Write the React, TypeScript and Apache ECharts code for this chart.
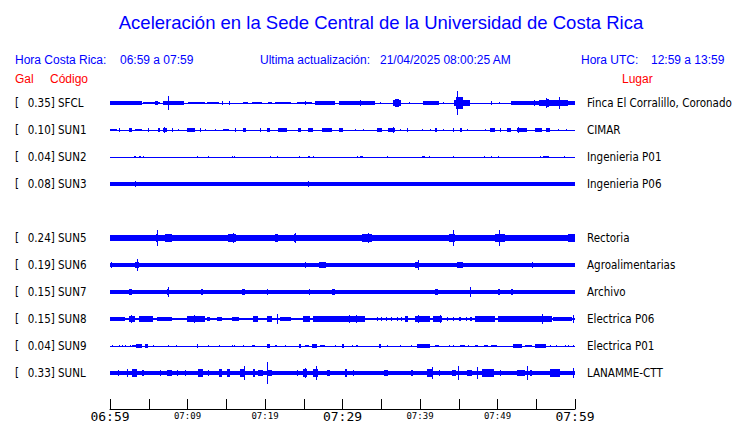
import React, { useEffect, useRef } from 'react';
import * as echarts from 'echarts';

// ---------- data ----------
const TITLE = 'Aceleración en la Sede Central de la Universidad de Costa Rica';
const localRange = '06:59 a 07:59';
const utcRange = '12:59 a 13:59';
const lastUpdate = '21/04/2025 08:00:25 AM';

const codes = ['SFCL', 'SUN1', 'SUN2', 'SUN3', 'SUN4', 'SUN5', 'SUN6', 'SUN7', 'SUN8', 'SUN9', 'SUNL'];
const peakGal: (number | null)[] = [0.35, 0.10, 0.04, 0.08, null, 0.24, 0.19, 0.15, 0.15, 0.04, 0.33];
const places = ['Finca El Corralillo, Coronado', 'CIMAR', 'Ingenieria P01', 'Ingenieria P06', '', 'Rectoria',
  'Agroalimentarias', 'Archivo', 'Electrica P06', 'Electrica P01', 'LANAMME-CTT'];
// continuous background noise level (Gal, half amplitude)
const noiseGal: (number | null)[] = [0.015, 0.015, 0.015, 0.05, null, 0.08, 0.06, 0.055, 0.045, 0.015, 0.065];

// tick labels every 5 minutes from 06:59
const tickLabels = ['06:59', '', '07:09', '', '07:19', '', '07:29', '', '07:39', '', '07:49', '', '07:59'];
const majorTickLabels = ['06:59', '07:29', '07:59'];

// events: [start minute, end minute, half amplitude in Gal]
const sfclEvents = [
  [0, 4.1, 0.05], [4.3, 6.5, 0.045], [5.8, 6.2, 0.07], [6.9, 9.5, 0.05], [7.5, 7.5, 0.21], [10.1, 12.3, 0.045],
  [12.5, 14.0, 0.04], [14.5, 14.5, 0.05], [15.3, 15.5, 0.05], [17.2, 17.8, 0.04], [18.3, 19.6, 0.045],
  [20.4, 20.9, 0.04], [21.3, 23.4, 0.045], [24.1, 26.0, 0.045], [25.2, 25.2, 0.07], [26.5, 29.0, 0.05],
  [29.5, 32.0, 0.05], [32.0, 34.2, 0.075], [32.2, 32.2, 0.1], [34.8, 35.0, 0.04], [36.5, 37.6, 0.08],
  [36.8, 37.3, 0.13], [38.6, 38.6, 0.04], [40.4, 42.4, 0.05], [43.0, 43.0, 0.04], [44.4, 46.5, 0.1],
  [44.7, 45.6, 0.18], [44.75, 44.75, 0.35], [49.2, 49.3, 0.05], [50.2, 50.3, 0.04], [51.8, 55.3, 0.05],
  [54.7, 54.7, 0.08], [55.3, 59.1, 0.08], [56.2, 56.6, 0.12], [56.3, 56.3, 0.16], [57.9, 57.9, 0.18],
  [58.4, 59.0, 0.1], [59.1, 60, 0.06],
];
const sun1Events = [
  [0, 0.9, 0.045], [1.1, 1.1, 0.05], [2.4, 2.8, 0.05], [3.2, 4.1, 0.045], [4.9, 4.9, 0.05], [6.2, 6.45, 0.05],
  [6.9, 7.3, 0.06], [7.0, 7.0, 0.09], [8.0, 8.0, 0.05], [8.8, 8.8, 0.045], [9.9, 11.0, 0.05], [11.6, 11.6, 0.05],
  [12.3, 12.3, 0.045], [13.5, 13.5, 0.045], [14.6, 15.3, 0.045], [16.1, 16.1, 0.05], [17.2, 17.6, 0.05],
  [19.4, 19.4, 0.05], [20.2, 20.6, 0.05], [21.7, 22.8, 0.05], [24.3, 24.7, 0.05], [25.6, 26.2, 0.05],
  [27.3, 28.6, 0.05], [29.5, 30.1, 0.05], [31.6, 31.6, 0.045], [32.7, 32.7, 0.045], [34.4, 35.1, 0.05],
  [35.9, 36.8, 0.055], [36.5, 36.6, 0.08], [37.4, 37.4, 0.045], [38.3, 38.5, 0.05], [40.2, 40.2, 0.045],
  [41.3, 41.3, 0.045], [41.9, 42.2, 0.05], [43.0, 43.0, 0.045], [44.3, 44.3, 0.05], [45.2, 45.4, 0.05],
  [46.0, 46.0, 0.045], [48.4, 48.4, 0.045], [49.0, 49.7, 0.05], [50.3, 50.3, 0.05], [51.2, 51.8, 0.05],
  [52.5, 53.8, 0.055], [52.7, 52.8, 0.1], [54.8, 55.7, 0.05], [56.3, 56.8, 0.05], [57.8, 57.8, 0.045],
  [58.9, 58.9, 0.045],
];
const sun2Events = [
  [3.1, 3.3, 0.04], [3.7, 4.0, 0.045], [4.2, 4.2, 0.035], [11.2, 11.2, 0.035], [12.7, 12.7, 0.035],
  [15.8, 15.8, 0.03], [16.0, 16.0, 0.03], [20.7, 20.7, 0.035], [21.5, 21.5, 0.04], [24.4, 24.4, 0.03],
  [25.6, 25.8, 0.045], [26.2, 26.2, 0.035], [31.9, 31.9, 0.035], [32.3, 32.6, 0.04], [35.7, 35.7, 0.03],
  [40.2, 40.2, 0.03], [40.4, 40.7, 0.045], [41.2, 41.3, 0.04], [44.3, 44.3, 0.03], [48.3, 48.3, 0.035],
  [49.1, 49.1, 0.04], [50.0, 50.0, 0.035], [55.5, 55.5, 0.035], [55.9, 56.6, 0.045], [58.6, 58.6, 0.035],
];
const sun3Events = [
  [1.1, 1.1, 0.065], [1.6, 1.6, 0.07], [3.2, 3.3, 0.08], [11.0, 11.0, 0.06], [25.6, 25.65, 0.08],
  [32.5, 32.5, 0.06], [40.5, 40.7, 0.075], [48.3, 48.3, 0.065], [50.1, 50.1, 0.065], [52.7, 52.7, 0.06],
  [53.2, 53.2, 0.06], [56.0, 56.4, 0.075], [58.6, 58.6, 0.06],
];
const sun5Events = [
  [0.8, 1.2, 0.1], [1.7, 2.2, 0.1], [3.7, 3.9, 0.1], [4.6, 5.0, 0.095], [5.9, 6.2, 0.13], [6.0, 6.0, 0.24],
  [7.1, 8.0, 0.11], [9.0, 9.9, 0.1], [11.0, 11.3, 0.095], [12.6, 13.0, 0.095], [15.2, 16.2, 0.11],
  [15.9, 15.9, 0.15], [18.3, 18.5, 0.1], [21.3, 21.7, 0.11], [23.8, 24.0, 0.13], [23.9, 23.9, 0.14],
  [27.3, 27.6, 0.1], [29.0, 29.3, 0.095], [32.5, 33.8, 0.11], [33.3, 33.3, 0.15], [35.5, 35.8, 0.095],
  [38.1, 39.8, 0.1], [41.9, 42.4, 0.1], [43.7, 44.5, 0.12], [44.2, 44.2, 0.24], [45.8, 46.2, 0.1],
  [49.7, 51.0, 0.11], [50.2, 50.2, 0.25], [53.0, 53.3, 0.095], [55.5, 55.8, 0.095], [59.1, 60, 0.11],
];
const sun6Events = [
  [0.1, 0.1, 0.09], [3.2, 3.7, 0.1], [3.44, 3.44, 0.19], [10.9, 10.9, 0.07], [25.2, 25.2, 0.1],
  [27.0, 27.8, 0.08], [27.2, 27.2, 0.1], [27.7, 27.7, 0.1], [34.4, 34.4, 0.07], [39.4, 39.9, 0.09],
  [39.7, 39.7, 0.16], [41.7, 41.7, 0.07], [43.4, 43.4, 0.07], [44.8, 45.5, 0.08], [44.9, 44.9, 0.1],
  [45.4, 45.4, 0.1], [54.4, 54.4, 0.09], [57.2, 57.2, 0.07], [58.5, 58.5, 0.07], [59.4, 59.4, 0.07],
];
const sun7Events = [
  [1.3, 1.6, 0.07], [2.4, 2.8, 0.08], [4.9, 4.9, 0.07], [6.45, 6.45, 0.07], [7.4, 7.6, 0.08], [7.5, 7.5, 0.15],
  [10.0, 10.0, 0.07], [11.8, 12.0, 0.09], [13.2, 13.2, 0.07], [15.0, 15.0, 0.07], [17.0, 17.4, 0.1],
  [19.1, 19.1, 0.07], [20.2, 20.2, 0.08], [22.3, 22.3, 0.07], [23.0, 23.0, 0.07], [24.2, 24.2, 0.07],
  [25.7, 25.7, 0.08], [26.7, 26.7, 0.07], [27.7, 27.7, 0.07], [28.6, 29.0, 0.09], [29.3, 29.8, 0.075],
  [31.0, 31.0, 0.07], [32.9, 32.9, 0.07], [35.3, 35.3, 0.065], [38.4, 38.4, 0.07], [39.8, 39.8, 0.07],
  [40.7, 40.7, 0.07], [41.9, 42.3, 0.08], [43.2, 43.2, 0.07], [44.7, 44.7, 0.075], [46.4, 46.6, 0.09],
  [46.5, 46.5, 0.15], [48.8, 48.8, 0.07], [50.1, 50.3, 0.08], [51.8, 52.0, 0.08], [53.3, 53.3, 0.07],
  [54.2, 54.2, 0.07], [55.1, 55.1, 0.07], [56.3, 56.3, 0.07], [59.1, 59.1, 0.065],
];
const sun8Events = [
  [0, 1.9, 0.07], [2.4, 3.2, 0.1], [2.7, 2.7, 0.12], [3.7, 5.6, 0.09], [6.0, 8.0, 0.075], [9.9, 12.3, 0.08],
  [10.8, 10.8, 0.11], [12.5, 12.9, 0.07], [13.8, 14.4, 0.07], [15.7, 16.6, 0.07], [18.5, 19.1, 0.09],
  [20.2, 20.9, 0.09], [21.6, 21.6, 0.15], [21.9, 23.4, 0.075], [24.9, 25.8, 0.09], [26.2, 29.5, 0.08],
  [29.5, 32.9, 0.09], [30.8, 30.8, 0.12], [31.8, 31.8, 0.12], [34.4, 34.4, 0.065], [35.0, 35.0, 0.065],
  [35.6, 35.6, 0.065], [36.2, 36.2, 0.065], [37.0, 37.0, 0.065], [37.5, 37.5, 0.065], [38.1, 38.5, 0.08],
  [39.4, 41.3, 0.1], [39.8, 39.8, 0.12], [41.7, 42.8, 0.09], [42.6, 42.6, 0.12], [43.5, 43.5, 0.07],
  [44.2, 44.2, 0.07], [45.0, 45.3, 0.07], [45.9, 45.9, 0.07], [46.5, 46.7, 0.07], [47.1, 49.7, 0.08],
  [50.1, 53.5, 0.09], [53.5, 57.0, 0.095], [55.7, 55.7, 0.15], [57.2, 59.6, 0.07], [59.8, 59.8, 0.11],
];
const sun9Events = [
  [0.3, 0.3, 0.04], [1.1, 1.1, 0.04], [1.5, 1.5, 0.04], [1.9, 1.9, 0.04], [2.6, 2.6, 0.04], [2.8, 3.4, 0.045],
  [3.4, 4.1, 0.05], [4.5, 4.9, 0.05], [5.6, 5.6, 0.04], [7.5, 7.5, 0.035], [8.5, 8.5, 0.04], [11.2, 11.4, 0.05],
  [12.7, 12.7, 0.04], [14.1, 14.1, 0.035], [15.8, 15.8, 0.04], [16.0, 16.0, 0.04], [17.2, 17.2, 0.04],
  [18.3, 18.7, 0.045], [20.3, 20.7, 0.05], [21.3, 21.6, 0.045], [22.6, 22.6, 0.04], [24.4, 24.6, 0.05],
  [25.1, 25.7, 0.045], [26.0, 26.7, 0.05], [27.1, 27.7, 0.045], [29.0, 29.0, 0.04], [29.9, 30.2, 0.05],
  [31.2, 31.2, 0.04], [31.8, 32.0, 0.045], [34.7, 35.0, 0.05], [35.7, 35.7, 0.04], [37.4, 37.4, 0.04],
  [38.9, 38.9, 0.04], [39.6, 41.3, 0.05], [41.9, 42.4, 0.045], [43.7, 43.7, 0.04], [44.3, 44.3, 0.04],
  [45.2, 45.8, 0.045], [46.2, 46.2, 0.04], [47.1, 47.5, 0.045], [48.2, 48.8, 0.045], [49.2, 49.9, 0.045],
  [52.0, 53.1, 0.05], [53.5, 54.4, 0.045], [54.8, 56.3, 0.05], [56.8, 56.8, 0.04], [57.6, 57.6, 0.04],
  [58.7, 58.7, 0.04], [59.1, 59.1, 0.04], [59.8, 59.8, 0.04],
];
const sunlEvents = [
  [1.0, 1.0, 0.09], [2.15, 2.15, 0.13], [2.8, 3.5, 0.11], [3.1, 3.2, 0.12], [4.1, 4.4, 0.09], [6.45, 6.45, 0.08],
  [7.3, 8.0, 0.085], [8.6, 8.6, 0.08], [9.7, 9.7, 0.08], [11.4, 12.0, 0.11], [11.6, 11.6, 0.13],
  [12.7, 12.7, 0.085], [14.0, 14.4, 0.11], [15.1, 15.5, 0.12], [15.3, 15.3, 0.13], [16.8, 17.4, 0.11],
  [17.3, 17.3, 0.21], [18.5, 18.7, 0.12], [19.1, 19.8, 0.1], [20.3, 20.3, 0.33], [20.4, 20.9, 0.09],
  [24.1, 24.1, 0.08], [24.9, 25.4, 0.11], [25.1, 25.1, 0.14], [26.2, 26.9, 0.11], [26.6, 26.6, 0.21],
  [28.0, 28.4, 0.09], [30.3, 30.5, 0.12], [30.4, 30.4, 0.13], [31.4, 31.4, 0.085], [35.3, 35.9, 0.1],
  [38.9, 39.1, 0.1], [40.9, 41.7, 0.12], [41.6, 41.6, 0.18], [42.4, 42.6, 0.09], [44.1, 44.7, 0.09],
  [44.9, 44.9, 0.21], [46.0, 46.7, 0.08], [47.4, 47.4, 0.18], [48.0, 49.5, 0.11], [50.3, 50.3, 0.085],
  [52.5, 53.5, 0.1], [53.8, 53.8, 0.2], [54.2, 54.4, 0.085], [56.8, 58.1, 0.12], [57.4, 57.4, 0.13],
  [59.8, 59.8, 0.14],
];
const eventsByStation: number[][][] = [
  sfclEvents, sun1Events, sun2Events, sun3Events, [], sun5Events,
  sun6Events, sun7Events, sun8Events, sun9Events, sunlEvents,
];

// ---------- style ----------
const BLUE = '#0000ff';
const RED = '#ff0000';
const ROWS_PER_GAL = 33 / 27; // vertical scale of the traces
const HEAD_FONT = '"Liberation Sans", Arial, sans-serif';
const LABEL_FONT = '"DejaVu Sans Condensed", "DejaVu Sans", sans-serif';
const MONO_FONT = '"DejaVu Sans Mono", monospace';
const LABEL_SIZE = 11.5;

function renderTrace(_params: any, api: any) {
  const t0 = api.value(0);
  const t1 = api.value(1);
  const amp = api.value(2);
  const row = api.value(3);
  const a = api.coord([t0, row]);
  const b = api.coord([t1, row]);
  const half = Math.abs(api.size([0, amp * ROWS_PER_GAL])[1]);
  const x = Math.round(a[0]);
  const w = Math.max(1, Math.round(b[0]) - x);
  const yTop = Math.round(a[1] - half);
  let yBot = Math.round(a[1] + half);
  if (yBot <= yTop) yBot = yTop + 1;
  return {
    type: 'rect',
    shape: { x, y: yTop, width: w, height: yBot - yTop },
    style: { fill: BLUE },
  };
}

export default function App() {
  const ref = useRef<HTMLDivElement>(null);
  useEffect(() => {
    if (!ref.current) return;
    const chart = echarts.init(ref.current, undefined, { renderer: 'svg' });

    const series: any[] = [];
    codes.forEach((code, i) => {
      if (peakGal[i] == null) return;
      const data = [[0, 60, noiseGal[i] as number, i], ...eventsByStation[i].map((e) => [e[0], e[1], e[2], i])];
      series.push({
        type: 'custom',
        name: code,
        renderItem: renderTrace,
        dimensions: ['start', 'end', 'amp', 'row'],
        encode: { x: [0, 1], y: 3 },
        data,
        clip: false,
        silent: true,
      });
    });

    const rowIndex = (v: number) => {
      const r = Math.round(v);
      return Math.abs(r - v) < 1e-6 && r >= 0 && r < codes.length ? r : -1;
    };

    const option: any = {
      animation: false,
      backgroundColor: '#ffffff',
      grid: { left: 110, width: 465, top: 76, height: 333, containLabel: false },
      xAxis: {
        type: 'value',
        min: 0,
        max: 60,
        interval: 5,
        axisLine: { show: true, onZero: false, lineStyle: { color: '#000', width: 1 } },
        axisTick: { show: true, inside: true, length: 10, lineStyle: { color: '#000', width: 1 } },
        splitLine: { show: false },
        axisLabel: {
          margin: 0,
          showMinLabel: true,
          showMaxLabel: true,
          formatter: (v: number) => {
            const lbl = tickLabels[Math.round(v / 5)] || '';
            if (!lbl) return '';
            return majorTickLabels.includes(lbl) ? `{big|${lbl}}` : `{small|${lbl}}`;
          },
          rich: {
            big: { fontSize: 13, lineHeight: 15, fontFamily: MONO_FONT, color: '#000' },
            small: { fontSize: 9, lineHeight: 11, fontFamily: MONO_FONT, color: '#000', padding: [2, 0, 0, 0] },
          },
        },
      },
      yAxis: [
        {
          type: 'value',
          inverse: true,
          min: -1,
          max: 34 / 3,
          interval: 1,
          position: 'left',
          axisLine: { show: false, onZero: false },
          axisTick: { show: false },
          splitLine: { show: false },
          axisLabel: {
            align: 'left',
            margin: 95,
            showMinLabel: true,
            showMaxLabel: true,
            formatter: (v: number) => {
              const r = rowIndex(v);
              if (r < 0 || peakGal[r] == null) return '';
              return `{br|[}{txt|${(peakGal[r] as number).toFixed(2)}] ${codes[r]}}`;
            },
            rich: {
              br: { width: 12.7, fontSize: LABEL_SIZE, fontFamily: LABEL_FONT, color: '#000' },
              txt: { fontSize: LABEL_SIZE, fontFamily: LABEL_FONT, color: '#000' },
            },
          },
        },
        {
          type: 'value',
          inverse: true,
          min: -1,
          max: 34 / 3,
          interval: 1,
          position: 'right',
          axisLine: { show: false, onZero: false },
          axisTick: { show: false },
          splitLine: { show: false },
          axisLabel: {
            align: 'left',
            margin: 12,
            fontSize: LABEL_SIZE,
            fontFamily: LABEL_FONT,
            color: '#000',
            showMinLabel: true,
            showMaxLabel: true,
            formatter: (v: number) => {
              const r = rowIndex(v);
              if (r < 0 || peakGal[r] == null) return '';
              return places[r];
            },
          },
        },
      ],
      graphic: [
        { type: 'text', x: 381, y: 22, style: { text: TITLE, fill: BLUE, font: `18.5px ${HEAD_FONT}`, textAlign: 'center', textVerticalAlign: 'middle' } },
        { type: 'text', x: 15, y: 60, style: { text: 'Hora Costa Rica:', fill: BLUE, font: `12px ${HEAD_FONT}`, textVerticalAlign: 'middle' } },
        { type: 'text', x: 120, y: 60, style: { text: localRange, fill: BLUE, font: `12px ${HEAD_FONT}`, textVerticalAlign: 'middle' } },
        { type: 'text', x: 260, y: 60, style: { text: 'Ultima actualización:', fill: BLUE, font: `12px ${HEAD_FONT}`, textVerticalAlign: 'middle' } },
        { type: 'text', x: 380, y: 60, style: { text: lastUpdate, fill: BLUE, font: `12px ${HEAD_FONT}`, textVerticalAlign: 'middle' } },
        { type: 'text', x: 581, y: 60, style: { text: 'Hora UTC:', fill: BLUE, font: `12px ${HEAD_FONT}`, textVerticalAlign: 'middle' } },
        { type: 'text', x: 651, y: 60, style: { text: utcRange, fill: BLUE, font: `12px ${HEAD_FONT}`, textVerticalAlign: 'middle' } },
        { type: 'text', x: 15, y: 79, style: { text: 'Gal', fill: RED, font: `12px ${HEAD_FONT}`, textVerticalAlign: 'middle' } },
        { type: 'text', x: 50, y: 79, style: { text: 'Código', fill: RED, font: `12px ${HEAD_FONT}`, textVerticalAlign: 'middle' } },
        { type: 'text', x: 622, y: 79, style: { text: 'Lugar', fill: RED, font: `12px ${HEAD_FONT}`, textVerticalAlign: 'middle' } },
      ],
      series,
    };
    chart.setOption(option);
    return () => chart.dispose();
  }, []);

  return (
    <div
      ref={ref}
      style={{ position: 'absolute', left: 0, top: 0, width: 740, height: 423, background: '#fff' }}
    />
  );
}
